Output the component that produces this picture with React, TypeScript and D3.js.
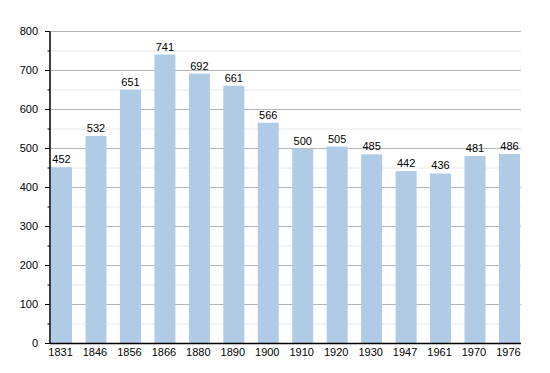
import * as d3 from 'd3';

const years = ['1831', '1846', '1856', '1866', '1880', '1890', '1900', '1910', '1920', '1930', '1947', '1961', '1970', '1976'];
const population = [452, 532, 651, 741, 692, 661, 566, 500, 505, 485, 442, 436, 481, 486];
const majorTicks = [0, 100, 200, 300, 400, 500, 600, 700, 800];
const minorTicks = [50, 150, 250, 350, 450, 550, 650, 750];

const W = 550;
const H = 373;
const left = 50;
const right = 521;
const top = 31.5;
const bottom = 343.5;
const font = '"Liberation Sans", Arial, sans-serif';

export default function App() {
  const x = d3.scaleBand<string>().domain(years).range([left, right]).paddingInner(0.39).paddingOuter(0.03);
  const y = d3.scaleLinear().domain([0, 800]).range([bottom, top]);

  return (
    <svg width={W} height={H} style={{ position: 'absolute', left: 0, top: 0, background: '#fff' }} fontFamily={font}>
      {minorTicks.map(t => (
        <g key={'m' + t}>
          <line x1={left} x2={right} y1={y(t)} y2={y(t)} stroke="#e8e8e8" strokeWidth={1} />
          <line x1={47.5} x2={left} y1={y(t)} y2={y(t)} stroke="#000" strokeWidth={1} />
        </g>
      ))}
      {majorTicks.map(t => (
        <g key={'M' + t}>
          {t > 0 && <line x1={left} x2={right} y1={y(t)} y2={y(t)} stroke="#b4b4b4" strokeWidth={1} />}
          <line x1={45} x2={left} y1={y(t)} y2={y(t)} stroke="#000" strokeWidth={1} />
          <text x={38} y={y(t)} dy="0.35em" textAnchor="end" fontSize={11} fill="#000">{t}</text>
        </g>
      ))}
      {years.map((yr, i) => {
        const v = population[i];
        const bx = x(yr)!;
        return (
          <g key={yr}>
            <rect x={bx} y={y(v)} width={x.bandwidth()} height={bottom - y(v)} fill="#b0cbe6" />
            <text x={bx + x.bandwidth() / 2} y={y(v) - 4} textAnchor="middle" fontSize={11} fill="#000">{v}</text>
            <text x={bx + x.bandwidth() / 2 - 1} y={356} textAnchor="middle" fontSize={11} fill="#000">{yr}</text>
          </g>
        );
      })}
      <line x1={left} x2={left} y1={top} y2={bottom} stroke="#000" strokeWidth={1.5} />
      <line x1={left} x2={right} y1={bottom} y2={bottom} stroke="#000" strokeWidth={1.5} />
    </svg>
  );
}
